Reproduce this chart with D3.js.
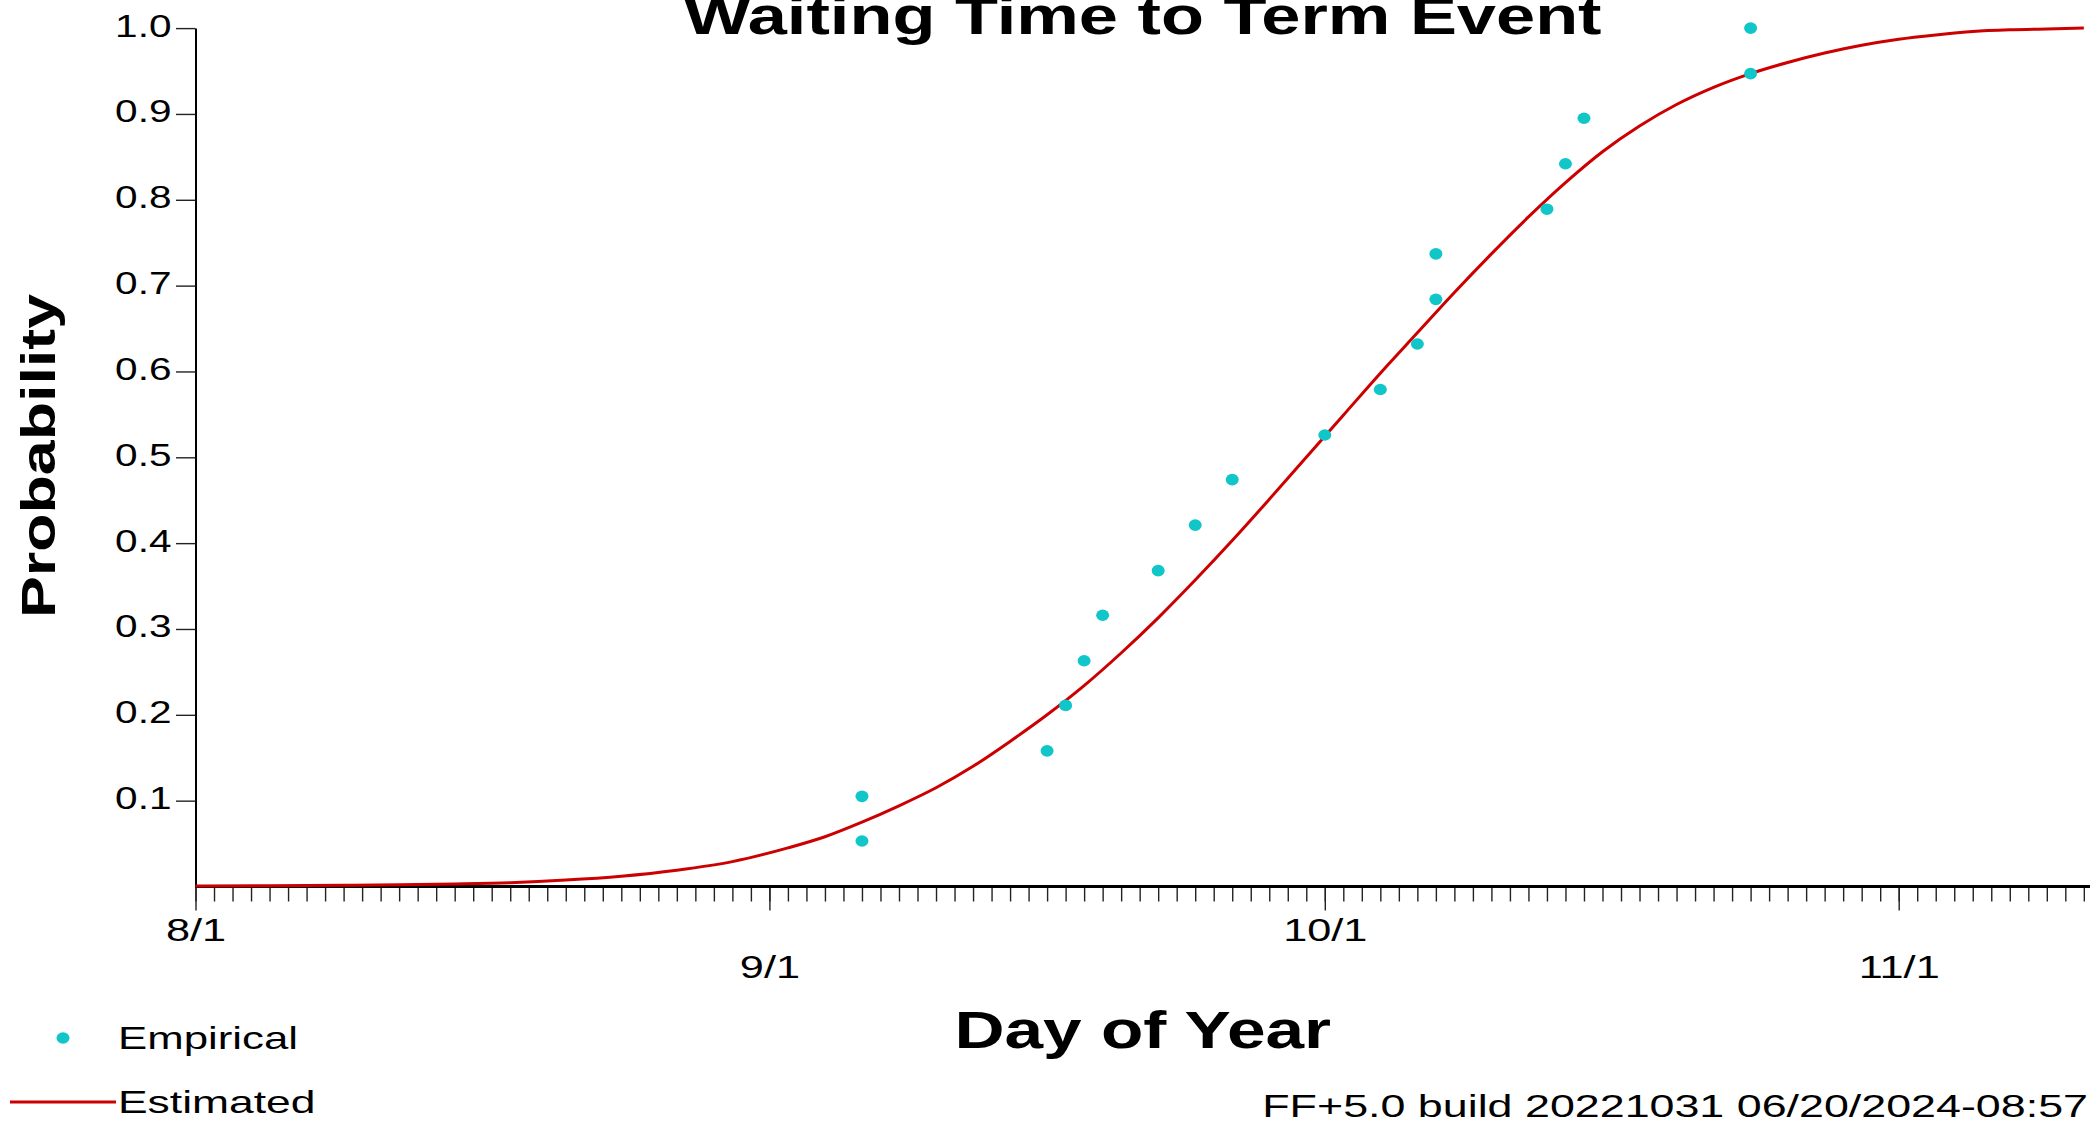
<!DOCTYPE html>
<html>
<head>
<meta charset="utf-8">
<script src="https://cdn.jsdelivr.net/npm/d3@7"></script>
<style>
  html, body { margin: 0; padding: 0; background: #fff; }
  svg { display: block; }
  text { font-family: "Liberation Sans", Arial, sans-serif; fill: #000; }
</style>
</head>
<body>
<script>
// ---------------- DATA ----------------
const chartTitle = "Waiting Time to Term Event";
const xTitle = "Day of Year";
const yTitle = "Probability";
const footerText = "FF+5.0 build 20221031 06/20/2024-08:57";
const legendLabels = ["Empirical", "Estimated"];

const yTickValues = [0.1, 0.2, 0.3, 0.4, 0.5, 0.6, 0.7, 0.8, 0.9, 1.0];
const monthTickLabels = ["8/1", "9/1", "10/1", "11/1"];

// Empirical points (date, cumulative probability)
const empiricalDates = ["9/6", "9/6", "9/16", "9/17", "9/18", "9/19", "9/22", "9/24", "9/26",
  "10/1", "10/4", "10/6", "10/7", "10/7", "10/13", "10/14", "10/15", "10/24", "10/24"];
const empiricalProb = [0.053, 0.105, 0.158, 0.211, 0.263, 0.316, 0.368, 0.421, 0.474,
  0.526, 0.579, 0.632, 0.684, 0.737, 0.789, 0.842, 0.895, 0.947, 1.000];

// Estimated curve (date, probability)
const estimatedDates = ["8/1", "8/5", "8/9", "8/12", "8/15", "8/18", "8/21", "8/24", "8/27", "8/30",
  "9/2", "9/4", "9/6", "9/8", "9/10", "9/12", "9/14", "9/16", "9/18", "9/20", "9/22", "9/24",
  "9/26", "9/28", "9/30", "10/2", "10/4", "10/6", "10/8", "10/10", "10/12", "10/14", "10/16",
  "10/18", "10/20", "10/22", "10/24", "10/26", "10/28", "10/30", "11/1", "11/3", "11/5",
  "11/7", "11/9", "11/11"];
const estimatedProb = [0.0005, 0.0008, 0.0014, 0.002, 0.003, 0.0045, 0.0075, 0.012, 0.019, 0.029,
  0.045, 0.058, 0.075, 0.094, 0.115, 0.140, 0.169, 0.200, 0.234, 0.272, 0.313, 0.357,
  0.403, 0.451, 0.500, 0.549, 0.598, 0.645, 0.692, 0.737, 0.780, 0.820, 0.856,
  0.886, 0.911, 0.931, 0.947, 0.960, 0.971, 0.980, 0.987, 0.992, 0.996,
  0.998, 0.999, 1.000];

const YEAR = 2023;
const axisStart = "8/1";
const axisEnd = "11/11";

// ---------------- LAYOUT ----------------
const W = 2099, H = 1125;
const plotLeft = 195.5, plotRight = 2090, plotTop = 28.1, plotBottom = 886.5;
const emColor = "#10c6c8";
const estColor = "#cc0000";

const parse = s => d3.timeParse("%m/%d/%Y")(s + "/" + YEAR);
const endDate = d3.timeHour.offset(parse(axisEnd), 8);

const x = d3.scaleTime().domain([parse(axisStart), endDate]).range([plotLeft, plotRight]);
const y = d3.scaleLinear().domain([0, 1]).range([plotBottom, plotTop]);

const svg = d3.select("body").append("svg").attr("width", W).attr("height", H);

function stretch(sel, k) {
  sel.each(function () {
    const w = this.getComputedTextLength();
    d3.select(this).attr("textLength", w * k).attr("lengthAdjust", "spacingAndGlyphs");
  });
}

// ---- x axis: minor day ticks
const days = d3.timeDay.range(parse(axisStart), d3.timeDay.offset(parse(axisEnd), 1));
const gxMinor = svg.append("g").attr("transform", `translate(0,${plotBottom})`)
  .call(d3.axisBottom(x).tickValues(days).tickSize(15).tickFormat(""));
gxMinor.select(".domain").remove();
gxMinor.selectAll(".tick line").attr("stroke", "#222").attr("stroke-width", 1.4);

// ---- x axis: month ticks with staggered labels
const monthDates = monthTickLabels.map(parse);
const gxMajor = svg.append("g").attr("transform", `translate(0,${plotBottom})`)
  .call(d3.axisBottom(x).tickValues(monthDates).tickSize(24)
    .tickFormat((d, i) => monthTickLabels[i]));
gxMajor.select(".domain").remove();
gxMajor.selectAll(".tick line").attr("stroke", "#222").attr("stroke-width", 1.4);
gxMajor.selectAll(".tick text")
  .attr("font-size", 30.5)
  .attr("font-family", "Liberation Sans, Arial, sans-serif")
  .attr("fill", "#000")
  .attr("dy", 0)
  .attr("y", (d, i) => (i % 2 === 0 ? 54 : 91))
  .call(stretch, 1.42);

// x axis line
svg.append("line")
  .attr("x1", plotLeft).attr("x2", plotRight)
  .attr("y1", plotBottom).attr("y2", plotBottom)
  .attr("stroke", "#000").attr("stroke-width", 3);

// ---- y axis
const gy = svg.append("g").attr("transform", `translate(${plotLeft},0)`)
  .call(d3.axisLeft(y).tickValues(yTickValues).tickSize(19.5).tickPadding(4.5)
    .tickSizeOuter(0).tickFormat(d3.format(".1f")));
gy.select(".domain").attr("stroke", "#000").attr("stroke-width", 2);
gy.selectAll(".tick line").attr("stroke", "#222").attr("stroke-width", 1.4);
gy.selectAll(".tick text")
  .attr("font-size", 30.5)
  .attr("font-family", "Liberation Sans, Arial, sans-serif")
  .attr("fill", "#000")
  .attr("dy", "0.26em")
  .call(stretch, 1.33);

// ---- estimated curve
const estData = estimatedDates.map((d, i) => ({ date: parse(d), p: estimatedProb[i] }));
svg.append("path")
  .datum(estData)
  .attr("fill", "none")
  .attr("stroke", estColor)
  .attr("stroke-width", 3)
  .attr("d", d3.line().x(d => x(d.date)).y(d => y(d.p)).curve(d3.curveMonotoneX));

// ---- empirical points
const empData = empiricalDates.map((d, i) => ({ date: parse(d), p: empiricalProb[i] }));
svg.append("g").selectAll("ellipse").data(empData).join("ellipse")
  .attr("cx", d => x(d.date))
  .attr("cy", d => y(d.p))
  .attr("rx", 6.5).attr("ry", 5.8)
  .attr("fill", emColor);

// ---- titles
svg.append("text")
  .attr("x", (plotLeft + plotRight) / 2).attr("y", 34)
  .attr("text-anchor", "middle")
  .attr("font-size", 51).attr("font-weight", "bold")
  .text(chartTitle)
  .call(stretch, 1.38);

svg.append("text")
  .attr("x", (plotLeft + plotRight) / 2).attr("y", 1048)
  .attr("text-anchor", "middle")
  .attr("font-size", 51).attr("font-weight", "bold")
  .text(xTitle)
  .call(stretch, 1.36);

svg.append("text")
  .attr("transform", `translate(55,456) rotate(-90)`)
  .attr("text-anchor", "middle")
  .attr("font-size", 49).attr("font-weight", "bold")
  .text(yTitle)
  .call(stretch, 1.28);

// ---- legend
svg.append("ellipse")
  .attr("cx", 63).attr("cy", 1038).attr("rx", 6.5).attr("ry", 5.8)
  .attr("fill", emColor);
svg.append("text")
  .attr("x", 118).attr("y", 1049)
  .attr("font-size", 31.5)
  .text(legendLabels[0])
  .call(stretch, 1.39);

svg.append("line")
  .attr("x1", 10).attr("x2", 116).attr("y1", 1102).attr("y2", 1102)
  .attr("stroke", estColor).attr("stroke-width", 3);
svg.append("text")
  .attr("x", 118).attr("y", 1113)
  .attr("font-size", 31.5)
  .text(legendLabels[1])
  .call(stretch, 1.41);

// ---- footer
svg.append("text")
  .attr("x", 2088).attr("y", 1117)
  .attr("text-anchor", "end")
  .attr("font-size", 32)
  .text(footerText)
  .call(stretch, 1.40);
</script>
</body>
</html>
